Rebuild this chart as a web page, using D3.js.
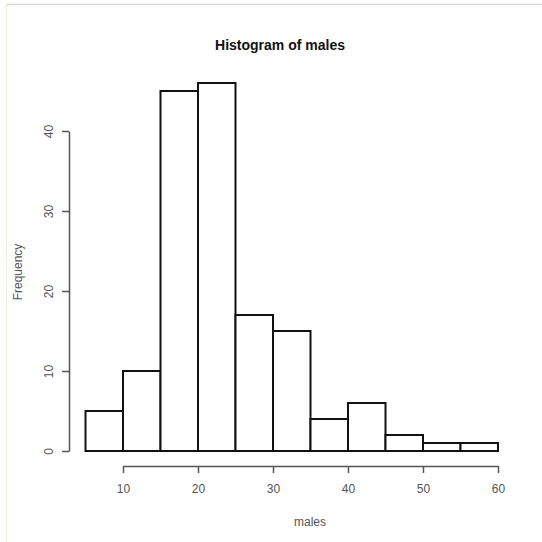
<!DOCTYPE html>
<html><head><meta charset="utf-8">
<script src="https://cdn.jsdelivr.net/npm/d3@7"></script>
<style>body{margin:0;background:#fff}svg{display:block}</style>
</head><body>
<script>
const binStarts = [5,10,15,20,25,30,35,40,45,50,55];
const binWidth = 5;
const counts = [5,10,45,46,17,15,4,6,2,1,1];
const xTicks = [10,20,30,40,50,60];
const yTicks = [0,10,20,30,40];
const title = "Histogram of males";
const xLabel = "males";
const yLabel = "Frequency";

const W = 542, H = 542;
const svg = d3.select("body").append("svg").attr("width", W).attr("height", H);
svg.append("rect").attr("width", W).attr("height", H).attr("fill", "#fff");
// frame lines of the screenshot
svg.append("line").attr("x1",6).attr("x2",542).attr("y1",4.5).attr("y2",4.5).attr("stroke","#d8d8d8").attr("stroke-width",1.5);
svg.append("line").attr("x1",6.5).attr("x2",6.5).attr("y1",4).attr("y2",542).attr("stroke","#eeeedd").attr("stroke-width",1);

const x = d3.scaleLinear().domain([10,60]).range([123,498]);
const y = d3.scaleLinear().domain([0,40]).range([451,131]);

const font = "Liberation Sans, Arial, sans-serif";
const grey = "#555";

svg.append("text").attr("x", 280).attr("y", 50).attr("text-anchor","middle")
  .attr("font-family", font).attr("font-weight","bold").attr("font-size", 14).attr("fill","#111").text(title);

// bars
svg.append("g").selectAll("rect").data(binStarts).join("rect")
  .attr("x", d => x(d)).attr("width", d => x(d+binWidth)-x(d))
  .attr("y", (d,i) => y(counts[i])).attr("height", (d,i) => y(0)-y(counts[i]))
  .attr("fill","#fff").attr("stroke","#111").attr("stroke-width",2);

// x axis
const xa = svg.append("g").attr("transform","translate(0,466)")
  .call(d3.axisBottom(x).tickValues(xTicks).tickSize(7).tickPadding(11).tickSizeOuter(0));
xa.select(".domain").attr("stroke",grey).attr("stroke-width",1.5);
xa.selectAll(".tick line").attr("stroke",grey).attr("stroke-width",1.5);
xa.selectAll("text").attr("font-family",font).attr("font-size",12).attr("fill",grey);

// y axis
const ya = svg.append("g").attr("transform","translate(69,0)")
  .call(d3.axisLeft(y).tickValues(yTicks).tickSize(7).tickSizeOuter(0));
ya.select(".domain").attr("stroke",grey).attr("stroke-width",1.5);
ya.selectAll(".tick line").attr("stroke",grey).attr("stroke-width",1.5);
ya.selectAll("text").attr("font-family",font).attr("font-size",12).attr("fill",grey)
  .attr("text-anchor","middle").attr("dy",0).attr("x",0)
  .attr("transform","translate(-16,0) rotate(-90)");

svg.append("text").attr("x",310).attr("y",526).attr("text-anchor","middle")
  .attr("font-family",font).attr("font-size",12).attr("fill",grey).text(xLabel);
svg.append("text").attr("transform","translate(22,272) rotate(-90)").attr("text-anchor","middle")
  .attr("font-family",font).attr("font-size",12).attr("fill",grey).text(yLabel);
</script>
</body></html>
